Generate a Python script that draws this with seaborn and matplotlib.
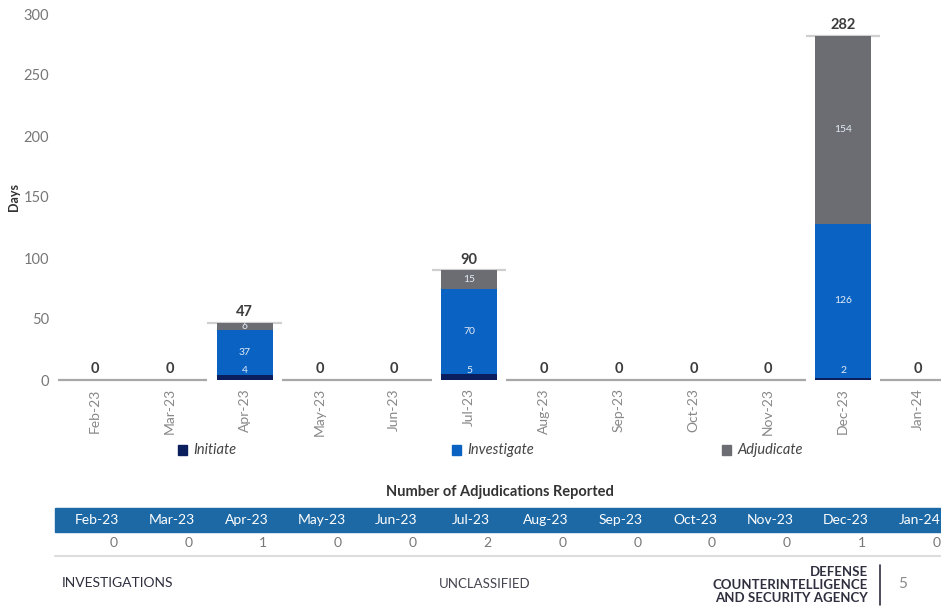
import pandas as pd
import matplotlib.pyplot as plt
import matplotlib.transforms as mtransforms
from matplotlib.patches import Rectangle
import seaborn as sns

# ----------------------------
# Data
# ----------------------------
months = ["Feb-23", "Mar-23", "Apr-23", "May-23", "Jun-23", "Jul-23",
          "Aug-23", "Sep-23", "Oct-23", "Nov-23", "Dec-23", "Jan-24"]
initiate = [0, 0, 4, 0, 0, 5, 0, 0, 0, 0, 2, 0]
investigate = [0, 0, 37, 0, 0, 70, 0, 0, 0, 0, 126, 0]
adjudicate = [0, 0, 6, 0, 0, 15, 0, 0, 0, 0, 154, 0]
totals = [0, 0, 47, 0, 0, 90, 0, 0, 0, 0, 282, 0]
adjudications_reported = [0, 0, 1, 0, 0, 2, 0, 0, 0, 0, 1, 0]

c_init = "#0b1f5e"
c_inv = "#0a63c2"
c_adj = "#6b6d72"

df = pd.DataFrame({"month": months, "initiate": initiate,
                   "investigate": investigate, "adjudicate": adjudicate})
df["inv_cum"] = df["initiate"] + df["investigate"]
df["adj_cum"] = df["inv_cum"] + df["adjudicate"]

sns.set_style("white")
plt.rcParams["font.family"] = ["Lato", "DejaVu Sans"]

W, H = 941, 608
fig = plt.figure(figsize=(W / 100, H / 100), dpi=100)
ax = fig.add_axes([60 / W, 1 - 380 / H, 1 - 60 / W, 366 / H])

# ----------------------------
# Stacked bars (layered cumulative)
# ----------------------------
for col, c in [("adj_cum", c_adj), ("inv_cum", c_inv), ("initiate", c_init)]:
    sns.barplot(data=df, x="month", y=col, order=months, color=c,
                saturation=1, width=0.75, linewidth=0, ax=ax, zorder=2)

# total markers / baseline
for i, t in enumerate(totals):
    ax.hlines(t, i - 0.5, i + 0.5, colors="#a8a8a8" if t == 0 else "#cfcfcf",
              lw=1.6, zorder=1, clip_on=False)
    ax.text(i, t + 3, str(t), ha="center", va="bottom", fontsize=10.5,
            fontweight="bold", color="#3c3c3c")

# segment labels
for i in range(len(months)):
    if totals[i] == 0:
        continue
    segs = [(0, initiate[i]), (initiate[i], investigate[i]),
            (initiate[i] + investigate[i], adjudicate[i])]
    for b, v in segs:
        y = b + max(v / 2, 7.5) if b == 0 else b + v / 2
        ax.text(i, y, str(v), ha="center", va="center", fontsize=7.5,
                color="#e4ecf7", zorder=3)

ax.set_xlim(-0.468, -0.468 + (W - 60) / 74.8)
ax.set_ylim(0, 300)
ax.set_yticks(range(0, 301, 50))
ax.set_xlabel("")
ax.set_ylabel("Days", fontsize=9, fontweight="bold", color="#333333")
ax.yaxis.set_label_coords(-40 / 881, 0.5)
ax.tick_params(axis="y", colors="#777777", labelsize=10.5, length=0, pad=8)
ax.tick_params(axis="x", colors="#888888", labelsize=10, length=0, pad=6,
               rotation=90)
sns.despine(ax=ax, left=True, bottom=True)

# ----------------------------
# Legend
# ----------------------------
for x, lab, c in [(183, "Initiate", c_init), (457, "Investigate", c_inv),
                  (727, "Adjudicate", c_adj)]:
    fig.patches.append(Rectangle(((x - 5) / W, 1 - 455 / H), 9 / W, 10 / H,
                                 transform=fig.transFigure, color=c))
    fig.text((x + 10) / W, 1 - 450 / H, lab, fontsize=10.5, style="italic",
             color="#444444", va="center", ha="left")

# ----------------------------
# Table
# ----------------------------
fig.text(500 / W, 1 - 492 / H, "Number of Adjudications Reported",
         ha="center", va="center", fontsize=10.5, fontweight="bold",
         color="#333333")
fig.patches.append(Rectangle((55 / W, 1 - 532 / H), 1 - 55 / W, 24 / H,
                             transform=fig.transFigure, color="#1d69a6"))
trans = mtransforms.blended_transform_factory(ax.transData, fig.transFigure)
for i, m in enumerate(months):
    fig.text(i + 0.03, 1 - 520 / H, m, transform=trans, ha="center",
             va="center", fontsize=10, color="white")
    fig.text(i + 0.25, 1 - 543 / H, str(adjudications_reported[i]),
             transform=trans, ha="center", va="center", fontsize=10,
             color="#777777")
fig.add_artist(plt.Line2D([55 / W, 1], [1 - 556 / H] * 2,
                          transform=fig.transFigure, color="#dddddd", lw=1.5))

# ----------------------------
# Footer
# ----------------------------
fig.text(62 / W, 1 - 583 / H, "INVESTIGATIONS", ha="left", va="center",
         fontsize=10, color="#2f2f3f")
fig.text(485 / W, 1 - 584 / H, "UNCLASSIFIED", ha="center", va="center",
         fontsize=9.5, color="#444450")
fig.text(868 / W, 1 - 585 / H, "DEFENSE\nCOUNTERINTELLIGENCE\nAND SECURITY AGENCY",
         ha="right", va="center", fontsize=9.5, fontweight="bold",
         color="#2f2f3f", linespacing=1.05)
fig.add_artist(plt.Line2D([880 / W] * 2, [1 - 565 / H, 1 - 605 / H],
                          transform=fig.transFigure, color="#2f2f3f", lw=1.2))
fig.text(903 / W, 1 - 584 / H, "5", ha="center", va="center", fontsize=11,
         color="#888888")

fig.savefig("out.png", dpi=100)
plt.close(fig)
